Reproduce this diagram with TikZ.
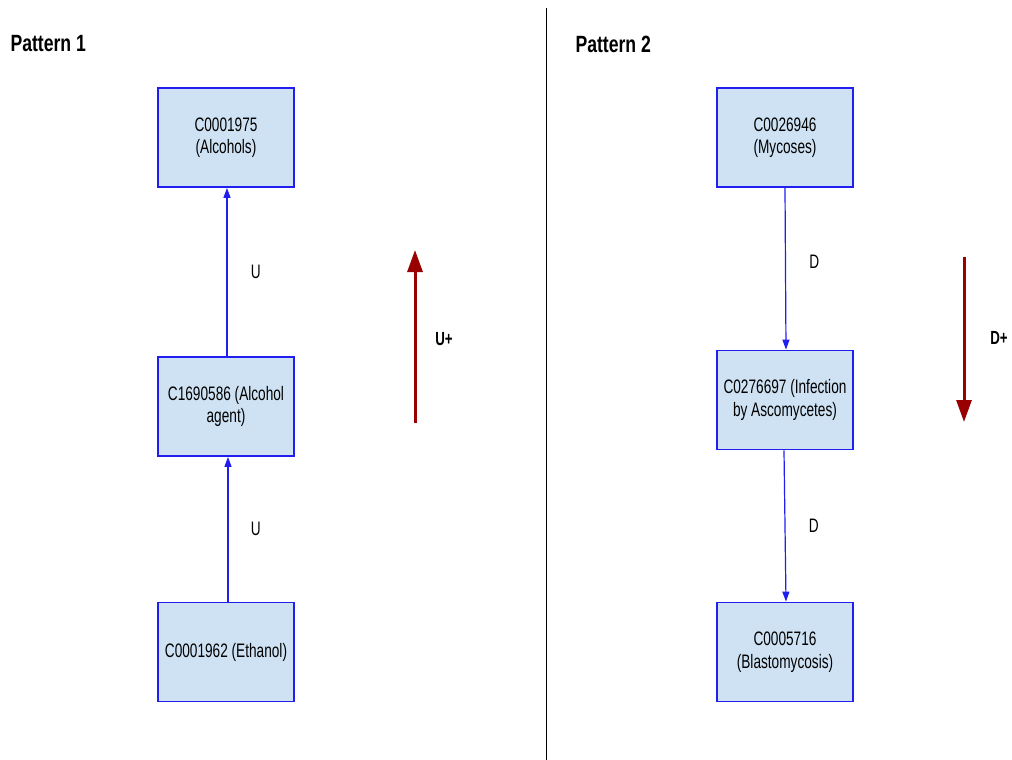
\documentclass[tikz,border=0pt]{standalone}
\usepackage{fontspec}
\setmainfont{Liberation Sans}[FakeStretch=0.70]
\newfontfamily\headfont{Liberation Sans}[FakeStretch=0.75]
\usetikzlibrary{arrows.meta}
\definecolor{boxfill}{HTML}{CFE2F3}
\definecolor{boxline}{HTML}{1F1FF0}
\definecolor{trend}{HTML}{990000}
\tikzset{
  concept/.style={draw=boxline, line width=1.8pt, fill=boxfill,
    minimum width=136pt, minimum height=99pt, inner sep=0pt,
    align=center, font=\fontsize{19.5}{22.5}\selectfont},
  rel/.style={draw=boxline, line width=1.2pt,
    -{Triangle[length=10pt,width=7pt]}},
  rellabel/.style={font=\fontsize{19.5}{22}\selectfont},
  trendarrow/.style={draw=trend, line width=3pt,
    -{Triangle[length=22pt,width=15pt]}},
  trendlabel/.style={font=\bfseries\fontsize{19}{22}\selectfont},
  heading/.style={font=\headfont\bfseries\fontsize{23.5}{26}\selectfont, anchor=west}
}
\begin{document}
\begin{tikzpicture}[x=1pt,y=-1pt]
\useasboundingbox (0,0) rectangle (1012,760);
\fill[white] (0,0) rectangle (1012,760);

% divider between the two patterns
\coordinate (divtop) at (546,8);
\coordinate (divbot) at (546,760);
\draw[line width=1pt] (divtop) -- (divbot);

% headings
\node[heading] (h1) at (7,44) {Pattern 1};
\node[heading] (h2) at (572,44) {Pattern 2};

% Pattern 1: upward chain
\node[concept] (alc) at (226,137.5) {C0001975\\(Alcohols)};
\node[concept] (agent) at (226,406.5) {C1690586 (Alcohol\\agent)};
\node[concept] (eth) at (226,652) {C0001962 (Ethanol)};
\draw[rel] ([xshift=2pt]eth.north) -- node[rellabel, right=19pt] {U} ([xshift=2pt]agent.south);
\draw[rel] ([xshift=1pt]agent.north) -- node[rellabel, right=20pt] {U} ([xshift=1pt]alc.south);

\coordinate (uplow) at (415,423);
\coordinate (uphigh) at (415,250);
\draw[trendarrow] (uplow) -- (uphigh);
\node[trendlabel] (uplus) at (444,339) {U+};

% Pattern 2: downward chain
\node[concept] (myc) at (785,137.5) {C0026946\\(Mycoses)};
\node[concept] (inf) at (785,400) {C0276697 (Infection\\by Ascomycetes)};
\node[concept] (blast) at (785,652) {C0005716\\(Blastomycosis)};
\draw[rel] (myc.south) -- node[rellabel, right=20pt, pos=0.46] {D} ([xshift=1pt]inf.north);
\draw[rel] ([xshift=-1pt]inf.south) -- node[rellabel, right=20pt, pos=0.5] {D} ([xshift=1pt]blast.south |- blast.north);

\coordinate (dnhigh) at (964,257);
\coordinate (dnlow) at (964,422);
\draw[trendarrow] (dnhigh) -- (dnlow);
\node[trendlabel] (dplus) at (999,338) {D+};
\end{tikzpicture}
\end{document}
